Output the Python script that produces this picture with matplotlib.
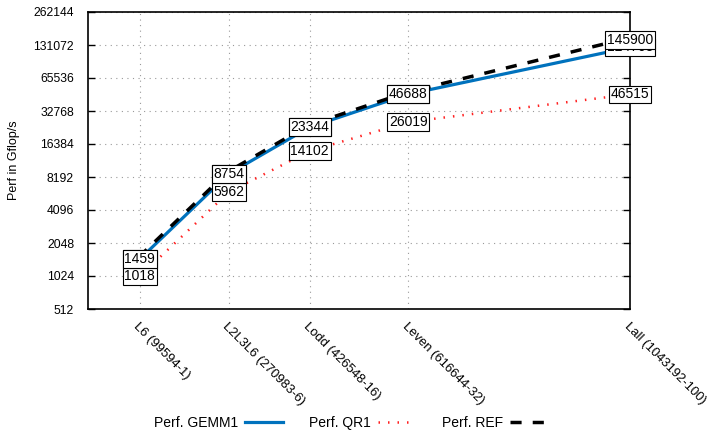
import matplotlib
matplotlib.use("Agg")
import matplotlib.pyplot as plt
import matplotlib.transforms as mtransforms
from matplotlib.ticker import FixedLocator, NullLocator

plt.rcParams['font.family'] = ['Liberation Sans', 'DejaVu Sans']

# data
sizes = [99594, 270983, 426548, 616644, 1043192]
tick_labels = ["L6 (99594-1)", "L2L3L6 (270983-6)", "Lodd (426548-16)",
               "Leven (616644-32)", "Lall (1043192-100)"]
perf_gemm1 = [1459, 8754, 23344, 46688, 124705]
perf_qr1 = [1018, 5962, 14102, 26019, 46515]
perf_ref = [1459, 8754, 23344, 46688, 145900]
y_ticks = [512, 1024, 2048, 4096, 8192, 16384, 32768, 65536, 131072, 262144]

fig = plt.figure(figsize=(7.13, 4.30), dpi=100)
ax = fig.add_axes([88 / 713, 1 - 309 / 430, (630 - 88) / 713, (309 - 12) / 430])

ax.set_yscale('log', base=2)
ax.set_ylim(512, 262144)
ax.set_xlim(0, sizes[-1])

# lines
ax.plot(sizes, perf_gemm1, color='#0072bd', lw=2.3, label='Perf. GEMM1', zorder=2)
ax.plot(sizes, perf_qr1, color='#ff2020', lw=1.8, ls=(0, (0.6, 3.2)), label='Perf. QR1', zorder=2)
ref_off = mtransforms.offset_copy(ax.transData, fig=fig, x=-1, y=2, units='dots')
ax.plot(sizes, perf_ref, color='black', lw=2.5, ls=(0, (3.2, 3.2)), label='Perf. REF',
        transform=ref_off, zorder=3)

# value labels in boxes
box = dict(boxstyle='square,pad=0.12', fc='white', ec='black', lw=0.8)
for series in (perf_gemm1, perf_qr1, perf_ref):
    for x, y in zip(sizes, series):
        ax.text(x, y, str(y), ha='center', va='center', fontsize=10,
                bbox=box, zorder=5, clip_on=False)

# axes styling
ax.yaxis.set_major_locator(FixedLocator(y_ticks))
ax.yaxis.set_minor_locator(NullLocator())
ax.set_yticklabels([str(v) for v in y_ticks], fontsize=8.7)
ax.set_xticks(sizes)
ax.set_xticklabels(tick_labels, rotation=-45, ha='left', va='top',
                   rotation_mode='anchor', fontsize=9.4)
ax.tick_params(axis='y', direction='in', length=5, right=True, width=1, pad=10)
ax.tick_params(axis='x', direction='in', length=0, pad=8)
ax.grid(True, which='major', ls=(0, (1, 4)), color='#999999', lw=0.8)
for s in ax.spines.values():
    s.set_linewidth(1.2)

ax.set_ylabel('Perf in Gflop/s', fontsize=9)
ax.yaxis.set_label_coords(-0.125, 0.5)

fig.legend(loc='center', bbox_to_anchor=(0.492, 1 - 423 / 430), ncol=3,
           frameon=False, markerfirst=False, fontsize=10, handlelength=2.7,
           handletextpad=0.5, columnspacing=1.9)

fig.savefig('out.png', dpi=100)
